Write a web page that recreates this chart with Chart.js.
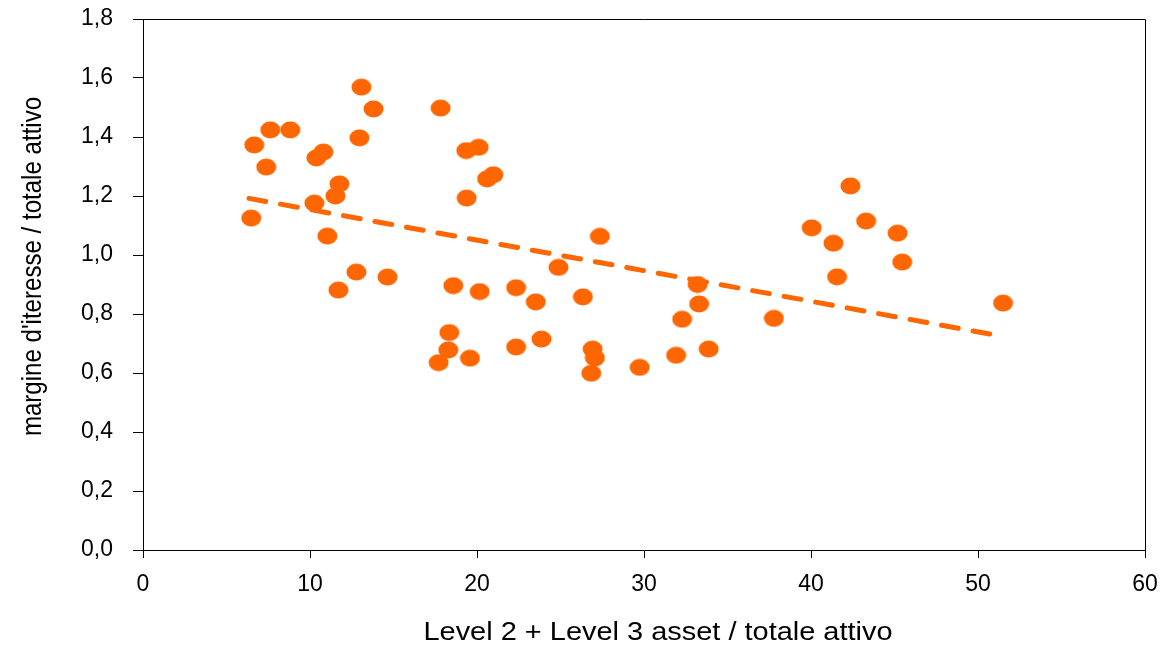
<!DOCTYPE html>
<html>
<head>
<meta charset="utf-8">
<script src="https://cdn.jsdelivr.net/npm/chart.js@4/dist/chart.umd.min.js"></script>
<style>
  html, body { margin: 0; padding: 0; background: #fff; }
  #wrap { width: 1164px; height: 647px; position: relative; }
</style>
</head>
<body>
<div id="wrap"><canvas id="c" width="1164" height="647"></canvas></div>
<script>
// ---- data ----
const xValues = [6.48, 6.66, 7.38, 7.62, 8.82, 10.38, 10.8, 10.26, 11.04, 11.52, 11.76, 11.7, 12.78, 12.96, 13.08, 13.8, 14.64,
  17.82, 17.7, 18.28, 18.34, 18.58, 19.38, 19.36, 20.1, 19.58, 20.16, 20.6, 20.98, 22.34, 22.34, 23.52, 23.86, 24.88,
  26.34, 26.92, 27.06, 26.84, 27.36, 29.74, 31.92, 32.28, 33.21, 33.3, 33.87, 37.78, 40.04, 41.34, 41.56, 42.36, 43.3,
  45.18, 45.46, 51.5];
const yValues = [1.125, 1.373, 1.298, 1.424, 1.424, 1.329, 1.349, 1.176, 1.064, 1.2, 1.241, 0.881, 0.942, 1.397, 1.569, 1.495, 0.925,
  1.498, 0.635, 0.678, 0.737, 0.896, 1.193, 1.354, 1.365, 0.650, 0.876, 1.258, 1.272, 0.889, 0.688, 0.841, 0.715, 0.958,
  0.858, 0.681, 0.651, 0.599, 1.063, 0.619, 0.660, 0.782, 0.900, 0.834, 0.681, 0.785, 1.092, 1.040, 0.926, 1.234, 1.115,
  1.074, 0.976, 0.837];
const trendX = [6.35, 51.3];
const trendY = [1.192, 0.726];
const xTicks = [0, 10, 20, 30, 40, 50, 60];
const yTicks = [0, 0.2, 0.4, 0.6, 0.8, 1.0, 1.2, 1.4, 1.6, 1.8];
const xTitle = 'Level 2 + Level 3 asset / totale attivo';
const yTitle = "margine d'iteresse / totale attivo";

const ORANGE = '#FF6600';
const FONT = "'Liberation Sans', Arial, sans-serif";

// elliptical marker
const marker = document.createElement('canvas');
marker.width = 21; marker.height = 18;
(function () {
  const m = marker.getContext('2d');
  m.fillStyle = ORANGE;
  m.beginPath();
  m.ellipse(10.5, 9, 10, 8.4, 0, 0, Math.PI * 2);
  m.fill();
})();

const points = xValues.map((x, i) => ({ x: x, y: yValues[i] }));
const trend = trendX.map((x, i) => ({ x: x, y: trendY[i] }));

// text stretch styling for axis titles (the reference glyphs are anisotropically scaled)
function wrapTitle(chart, scale, fn) {
  if (!scale || scale._wrapped) return;
  const orig = scale.drawTitle.bind(scale);
  scale.drawTitle = function (area) {
    const ctx = chart.ctx;
    ctx.save();
    fn(ctx, scale);
    orig(area);
    ctx.restore();
  };
  scale._wrapped = true;
}

const framePlugin = {
  id: 'frame',
  beforeDraw(chart) {
    wrapTitle(chart, chart.scales.x, (ctx, s) => {
      const c = (s.left + s.right) / 2;
      ctx.translate(c + 14, 0);
      ctx.scale(1.158, 1);
      ctx.translate(-c, 0);
    });
    wrapTitle(chart, chart.scales.y, (ctx, s) => {
      const c = (s.top + s.bottom) / 2;
      ctx.translate(0, c - 18);
      ctx.scale(1, 0.86);
      ctx.translate(0, -c);
    });
  },
  afterDraw(chart) {
    const a = chart.chartArea;
    const ctx = chart.ctx;
    ctx.save();
    ctx.strokeStyle = '#000';
    ctx.lineWidth = 1;
    ctx.beginPath();
    ctx.moveTo(Math.round(a.left) + 0.5, Math.round(a.top) + 0.5);
    ctx.lineTo(Math.round(a.right) + 0.5, Math.round(a.top) + 0.5);
    ctx.lineTo(Math.round(a.right) + 0.5, Math.round(a.bottom) + 0.5);
    ctx.stroke();
    ctx.restore();
  }
};

new Chart(document.getElementById('c'), {
  type: 'scatter',
  data: {
    datasets: [
      {
        label: 'banche',
        data: points,
        pointStyle: marker,
        pointRadius: 9,
        pointHoverRadius: 9,
        backgroundColor: ORANGE,
        borderColor: ORANGE,
        showLine: false,
        order: 0
      },
      {
        label: 'trend',
        type: 'line',
        data: trend,
        borderColor: ORANGE,
        borderWidth: 5,
        borderDash: [17, 15],
        borderCapStyle: 'round',
        pointRadius: 0,
        fill: false,
        order: 1
      }
    ]
  },
  options: {
    responsive: false,
    animation: false,
    events: [],
    layout: { padding: { left: 10, right: 19, top: 19, bottom: 0 } },
    plugins: {
      legend: { display: false },
      tooltip: { enabled: false }
    },
    scales: {
      x: {
        type: 'linear',
        min: 0, max: 60,
        afterBuildTicks: (scale) => { scale.ticks = xTicks.map(v => ({ value: v })); },
        afterFit: (scale) => { scale.height = 647 - 550; scale.paddingLeft = 0; scale.paddingRight = 0; },
        ticks: {
          color: '#000',
          font: { family: FONT, size: 23 },
          padding: 13,
          maxRotation: 0,
          callback: (v) => String(v)
        },
        grid: { display: true, drawOnChartArea: false, drawTicks: true, tickLength: 8, color: '#000', lineWidth: 1 },
        border: { display: true, color: '#000', width: 1 },
        title: {
          display: true,
          text: xTitle,
          color: '#000',
          font: { family: FONT, size: 25, lineHeight: 1.0 },
          padding: { top: 0, bottom: 1.5 }
        }
      },
      y: {
        type: 'linear',
        min: 0, max: 1.8,
        afterBuildTicks: (scale) => { scale.ticks = yTicks.map(v => ({ value: v })); },
        afterFit: (scale) => { scale.width = 143 - 10; scale.paddingTop = 0; scale.paddingBottom = 0; },
        ticks: {
          color: '#000',
          font: { family: FONT, size: 23 },
          padding: 20,
          callback: (v) => Number(v).toFixed(1).replace('.', ',')
        },
        grid: { display: true, drawOnChartArea: false, drawTicks: true, tickLength: 10, color: '#000', lineWidth: 1 },
        border: { display: true, color: '#000', width: 1 },
        title: {
          display: true,
          text: yTitle,
          color: '#000',
          font: { family: FONT, size: 28, lineHeight: 1.0 },
          padding: { top: 9, bottom: 0 }
        }
      }
    }
  },
  plugins: [framePlugin]
});
</script>
</body>
</html>
